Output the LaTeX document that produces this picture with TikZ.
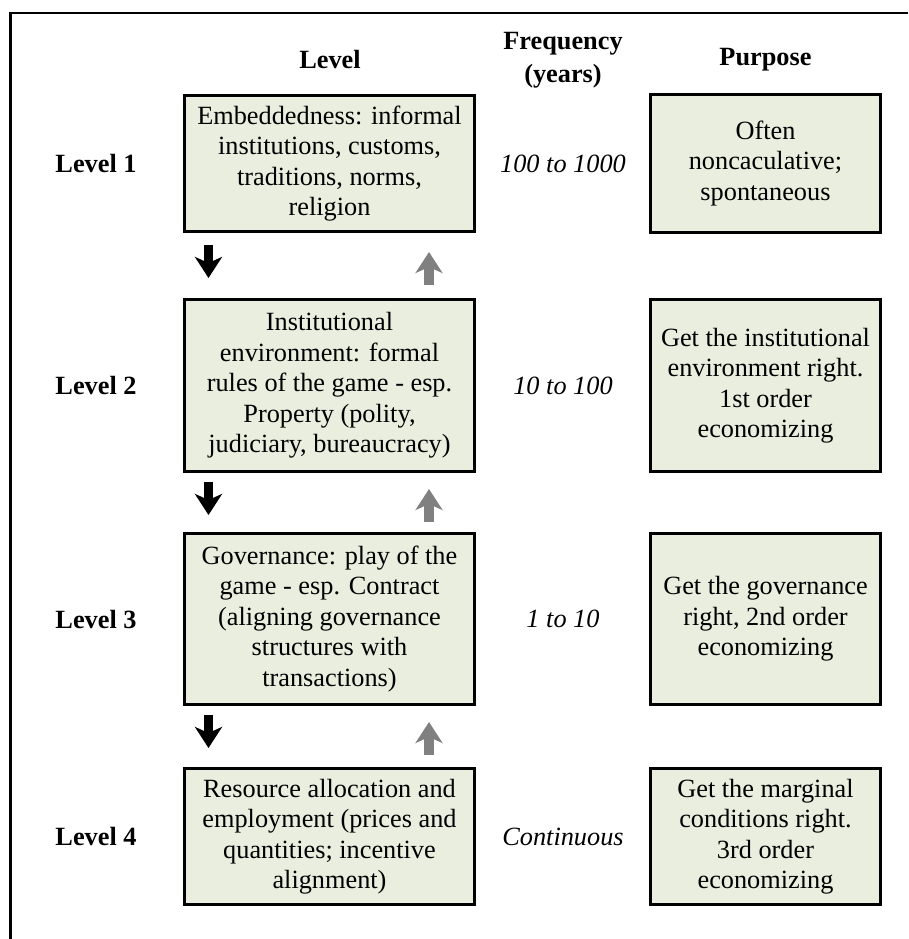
\documentclass[tikz,border=0pt]{standalone}
\usepackage{fontspec}
\setmainfont{Liberation Serif}
\usetikzlibrary{arrows.meta}

\definecolor{boxfill}{RGB}{234,238,223}
\definecolor{upgray}{RGB}{128,128,128}

\tikzset{
  every node/.style={font=\fontsize{26.3}{30.5}\selectfont},
  levelbox/.style={draw, line width=3pt, fill=boxfill, align=center,
    minimum width=290pt, inner sep=0pt},
  purposebox/.style={levelbox, minimum width=230pt},
  lvllabel/.style={font=\fontsize{26.3}{30.5}\selectfont\bfseries},
  header/.style={font=\fontsize{26.3}{33}\selectfont\bfseries, align=center},
  freq/.style={font=\fontsize{26.3}{30.5}\selectfont\itshape},
  dnarrow/.style={line width=9.5pt, line cap=butt, black,
    -{Stealth[length=21pt, width=27pt, inset=6pt]}},
  uparrow/.style={dnarrow, upgray}
}

\begin{document}
\begin{tikzpicture}[x=1pt, y=-1pt]
\useasboundingbox (0,0) rectangle (908,939);

\draw[line width=2.7pt] (908,13) -- (10.7,13) -- (10.7,939);

\node[header] (hlevel) at (330,60) {Level};
\node[header] (hfreq) at (563,60) {Frequency\\(years)};
\node[header] (hpurp) at (765.5,60) {Purpose};

\node[levelbox, minimum height=136pt] (l1) at (329.5,163.5)
  {Embeddedness: informal\\institutions, customs,\\traditions, norms,\\religion};
\node[levelbox, minimum height=172pt] (l2) at (329.5,385.5)
  {Institutional\\environment: formal\\rules of the game - esp.\\Property (polity,\\judiciary, bureaucracy)};
\node[levelbox, minimum height=171pt] (l3) at (329.5,619)
  {Governance: play of the\\game - esp. Contract\\(aligning governance\\structures with\\transactions)};
\node[levelbox, minimum height=136pt] (l4) at (329.5,836.5)
  {Resource allocation and\\employment (prices and\\quantities; incentive\\alignment)};

\node[purposebox, minimum height=137pt] (p1) at (765.5,163.5)
  {Often\\noncaculative;\\spontaneous};
\node[purposebox, minimum height=172pt] (p2) at (765.5,385.5)
  {Get the institutional\\environment right.\\1st order\\economizing};
\node[purposebox, minimum height=171pt] (p3) at (765.5,619)
  {Get the governance\\right, 2nd order\\economizing};
\node[purposebox, minimum height=136pt] (p4) at (765.5,836.5)
  {Get the marginal\\conditions right.\\3rd order\\economizing};

\node[lvllabel] (lv1) at (96,163.5) {Level 1};
\node[lvllabel] (lv2) at (96,385.5) {Level 2};
\node[lvllabel] (lv3) at (96,619) {Level 3};
\node[lvllabel] (lv4) at (96,836.5) {Level 4};

\node[freq] (f1) at (563,163.5) {100 to 1000};
\node[freq] (f2) at (563,385.5) {10 to 100};
\node[freq] (f3) at (563,619) {1 to 10};
\node[freq] (f4) at (563,836.5) {Continuous};

\draw[dnarrow] ([xshift=-121pt, yshift=-12pt]l1.south) -- ([xshift=-121pt, yshift=20pt]l2.north);
\draw[uparrow] ([xshift=99.5pt, yshift=13pt]l2.north) -- ([xshift=99.5pt, yshift=-19pt]l1.south);
\draw[dnarrow] ([xshift=-121pt, yshift=-9pt]l2.south) -- ([xshift=-121pt, yshift=17pt]l3.north);
\draw[uparrow] ([xshift=99.5pt, yshift=10pt]l3.north) -- ([xshift=99.5pt, yshift=-16pt]l2.south);
\draw[dnarrow] ([xshift=-121pt, yshift=-9pt]l3.south) -- ([xshift=-121pt, yshift=19pt]l4.north);
\draw[uparrow] ([xshift=99.5pt, yshift=12pt]l4.north) -- ([xshift=99.5pt, yshift=-16pt]l3.south);
\end{tikzpicture}
\end{document}
